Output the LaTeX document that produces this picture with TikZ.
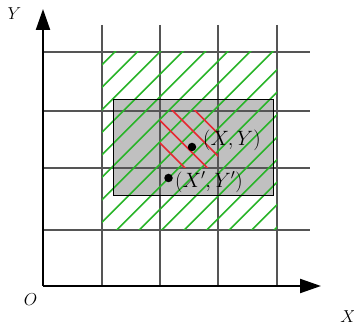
\documentclass[tikz,border=0pt]{standalone}
\usetikzlibrary{arrows.meta}
\definecolor{hatchgreen}{RGB}{40,180,40}
\definecolor{hatchred}{RGB}{230,40,50}
\definecolor{cellgray}{RGB}{192,192,192}
\definecolor{gridgray}{RGB}{85,85,85}
\tikzset{
  gridline/.style={draw=gridgray, line width=1.6pt},
  axisline/.style={draw=black, line width=2.2pt, -{Triangle[length=21pt,width=14pt]}},
  greenhatch/.style={draw=hatchgreen, line width=1.6pt},
  redhatch/.style={draw=hatchred, line width=1.6pt},
  ptdot/.style={circle, fill=black, inner sep=0pt, minimum size=8.5pt},
  biglabel/.style={inner sep=0pt, font=\fontsize{21}{24}\selectfont},
  axislabel/.style={inner sep=0pt, font=\fontsize{19}{22}\selectfont}
}
\begin{document}
\begin{tikzpicture}[x=1pt,y=-1pt]
\useasboundingbox (0,0) rectangle (354,326);
% gray rectangle fill
\fill[cellgray] (113,99) rectangle (273,195);
% grid
\foreach \gx in {102,160,218,277} {\draw[gridline] (\gx,25) -- (\gx,286);}
\foreach \gy in {52,111,168,230} {\draw[gridline] (43,\gy) -- (310,\gy);}
% green hatching
\begin{scope}
  \clip (102,52) rectangle (277,230);
  \foreach \k in {0,...,15} {
    \pgfmathsetmacro{\c}{166.7+22.5*\k}
    \draw[greenhatch] (\c,0) -- ({\c-400},400);
  }
\end{scope}
% red hatching
\begin{scope}
  \clip (160,111) rectangle (218,168);
  \foreach \d in {17,39.5,62,84.5} {
    \draw[redhatch] (\d,0) -- ({\d+300},300);
  }
\end{scope}
% gray rectangle border
\draw[black, line width=0.9pt] (113,99) rectangle (273,195);
% axes
\coordinate (O) at (43,286);
\coordinate (ytip) at (43,9);
\coordinate (xtip) at (321,286);
\draw[axisline] (O) -- (ytip);
\draw[axisline] (O) -- (xtip);
% points
\node[ptdot] (P) at (192,147) {};
\node[ptdot] (Q) at (168.5,178) {};
\node[biglabel, anchor=west] (Plab) at (203,140) {$(X,Y)$};
\node[biglabel, anchor=west] (Qlab) at (175,182) {$(X',Y')$};
% axis labels
\node[axislabel] (Ylab) at (14.5,14) {$Y$};
\node[axislabel] (Xlab) at (348,317) {$X$};
\node[axislabel] (Olab) at (30.5,300) {$O$};
\end{tikzpicture}
\end{document}
